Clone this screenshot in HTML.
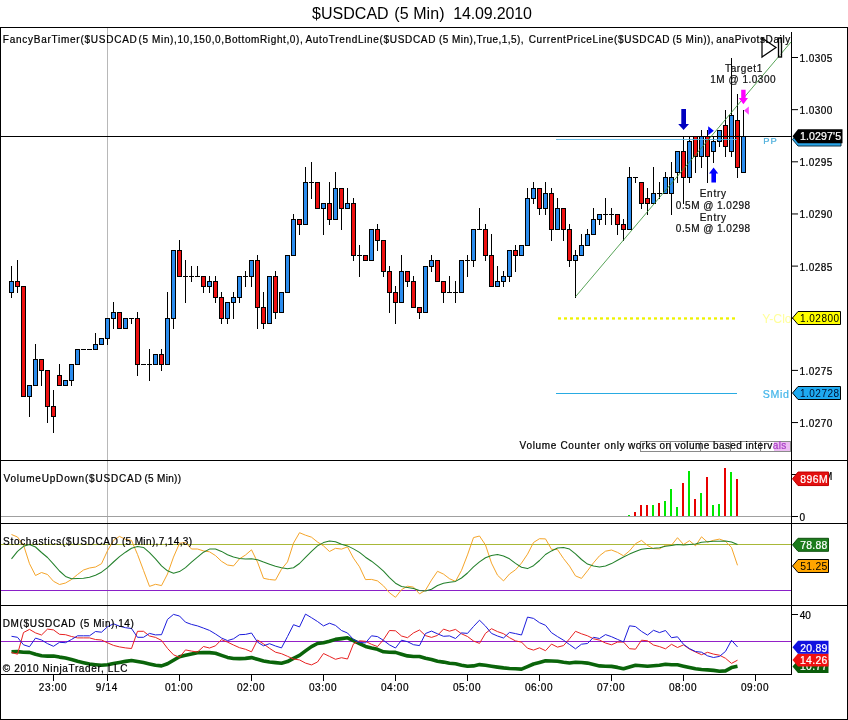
<!DOCTYPE html><html><head><meta charset="utf-8"><title>$USDCAD (5 Min) 14.09.2010</title><style>html,body{margin:0;padding:0;background:#fff}</style></head><body><svg width="848" height="720" viewBox="0 0 848 720" style="display:block">
<rect width="848" height="720" fill="#fff"/>
<text x="312.00" y="19" font-family="Liberation Sans, Arial, sans-serif" font-size="16" fill="#000" letter-spacing="0.032" xml:space="preserve">$USDCAD</text>
<text x="394.25" y="19" font-family="Liberation Sans, Arial, sans-serif" font-size="16" fill="#000" letter-spacing="0.083" xml:space="preserve">(5 Min)</text>
<text x="453.20" y="19" font-family="Liberation Sans, Arial, sans-serif" font-size="16" fill="#000" letter-spacing="-0.164" xml:space="preserve">14.09.2010</text>
<g shape-rendering="crispEdges">
<rect x="0" y="27" width="848" height="1" fill="#000"/>
<rect x="0" y="27" width="1" height="693" fill="#000"/>
<rect x="847" y="27" width="1" height="693" fill="#000"/>
<rect x="0" y="719" width="848" height="1" fill="#000"/>
<rect x="107" y="28" width="1" height="646" fill="#b8b8b8"/>
<rect x="0" y="460" width="848" height="1" fill="#000"/>
<rect x="0" y="523" width="848" height="1" fill="#000"/>
<rect x="0" y="605" width="848" height="1" fill="#000"/>
<rect x="0" y="674" width="792" height="1" fill="#000"/>
<rect x="791" y="32" width="1" height="643" fill="#000"/>
</g>
<rect x="792" y="57.00" width="6" height="1" fill="#000"/>
<rect x="792" y="109.15" width="6" height="1" fill="#000"/>
<rect x="792" y="161.30" width="6" height="1" fill="#000"/>
<rect x="792" y="213.45" width="6" height="1" fill="#000"/>
<rect x="792" y="265.60" width="6" height="1" fill="#000"/>
<rect x="792" y="317.75" width="6" height="1" fill="#000"/>
<rect x="792" y="369.90" width="6" height="1" fill="#000"/>
<rect x="792" y="422.05" width="6" height="1" fill="#000"/>
<g shape-rendering="crispEdges">
<rect x="1" y="516" width="790" height="1" fill="#a0a0a0"/>
<rect x="792" y="516" width="6" height="1" fill="#000"/>
<rect x="792" y="474" width="6" height="1" fill="#000"/>
<rect x="792" y="614" width="6" height="1" fill="#000"/>
<rect x="53" y="675" width="1" height="6" fill="#000"/>
<rect x="107" y="675" width="1" height="6" fill="#000"/>
<rect x="179" y="675" width="1" height="6" fill="#000"/>
<rect x="251" y="675" width="1" height="6" fill="#000"/>
<rect x="323" y="675" width="1" height="6" fill="#000"/>
<rect x="395" y="675" width="1" height="6" fill="#000"/>
<rect x="467" y="675" width="1" height="6" fill="#000"/>
<rect x="539" y="675" width="1" height="6" fill="#000"/>
<rect x="611" y="675" width="1" height="6" fill="#000"/>
<rect x="683" y="675" width="1" height="6" fill="#000"/>
<rect x="755" y="675" width="1" height="6" fill="#000"/>
</g>
<text x="799.45" y="61.9" font-family="Liberation Sans, Arial, sans-serif" font-size="10" fill="#000" stroke="#000" stroke-width="0.22" letter-spacing="0.455" xml:space="preserve">1.0305</text>
<text x="799.45" y="114.05000000000001" font-family="Liberation Sans, Arial, sans-serif" font-size="10" fill="#000" stroke="#000" stroke-width="0.22" letter-spacing="0.445" xml:space="preserve">1.0300</text>
<text x="799.45" y="166.20000000000002" font-family="Liberation Sans, Arial, sans-serif" font-size="10" fill="#000" stroke="#000" stroke-width="0.22" letter-spacing="0.455" xml:space="preserve">1.0295</text>
<text x="799.45" y="218.35" font-family="Liberation Sans, Arial, sans-serif" font-size="10" fill="#000" stroke="#000" stroke-width="0.22" letter-spacing="0.445" xml:space="preserve">1.0290</text>
<text x="799.45" y="270.5" font-family="Liberation Sans, Arial, sans-serif" font-size="10" fill="#000" stroke="#000" stroke-width="0.22" letter-spacing="0.455" xml:space="preserve">1.0285</text>
<text x="799.45" y="322.65" font-family="Liberation Sans, Arial, sans-serif" font-size="10" fill="#000" stroke="#000" stroke-width="0.22" letter-spacing="0.445" xml:space="preserve">1.0280</text>
<text x="799.45" y="374.79999999999995" font-family="Liberation Sans, Arial, sans-serif" font-size="10" fill="#000" stroke="#000" stroke-width="0.22" letter-spacing="0.455" xml:space="preserve">1.0275</text>
<text x="799.45" y="426.95" font-family="Liberation Sans, Arial, sans-serif" font-size="10" fill="#000" stroke="#000" stroke-width="0.22" letter-spacing="0.445" xml:space="preserve">1.0270</text>
<text x="799.55" y="520.9" font-family="Liberation Sans, Arial, sans-serif" font-size="10" fill="#000" stroke="#000" stroke-width="0.22" letter-spacing="-0.050" xml:space="preserve">0</text>
<text x="799.45" y="479.5" font-family="Liberation Sans, Arial, sans-serif" font-size="10" fill="#000" stroke="#000" stroke-width="0.22" letter-spacing="0.588" xml:space="preserve">1000M</text>
<text x="799.80" y="618.7" font-family="Liberation Sans, Arial, sans-serif" font-size="10" fill="#000" stroke="#000" stroke-width="0.22" letter-spacing="-0.062" xml:space="preserve">40</text>
<text x="38.75" y="690.6" font-family="Liberation Sans, Arial, sans-serif" font-size="10" fill="#000" stroke="#000" stroke-width="0.22" letter-spacing="0.709" xml:space="preserve">23:00</text>
<text x="95.80" y="690.6" font-family="Liberation Sans, Arial, sans-serif" font-size="10" fill="#000" stroke="#000" stroke-width="0.22" letter-spacing="0.666" xml:space="preserve">9/14</text>
<text x="164.90" y="690.6" font-family="Liberation Sans, Arial, sans-serif" font-size="10" fill="#000" stroke="#000" stroke-width="0.22" letter-spacing="0.672" xml:space="preserve">01:00</text>
<text x="236.90" y="690.6" font-family="Liberation Sans, Arial, sans-serif" font-size="10" fill="#000" stroke="#000" stroke-width="0.22" letter-spacing="0.672" xml:space="preserve">02:00</text>
<text x="308.90" y="690.6" font-family="Liberation Sans, Arial, sans-serif" font-size="10" fill="#000" stroke="#000" stroke-width="0.22" letter-spacing="0.672" xml:space="preserve">03:00</text>
<text x="380.90" y="690.6" font-family="Liberation Sans, Arial, sans-serif" font-size="10" fill="#000" stroke="#000" stroke-width="0.22" letter-spacing="0.672" xml:space="preserve">04:00</text>
<text x="452.90" y="690.6" font-family="Liberation Sans, Arial, sans-serif" font-size="10" fill="#000" stroke="#000" stroke-width="0.22" letter-spacing="0.672" xml:space="preserve">05:00</text>
<text x="524.90" y="690.6" font-family="Liberation Sans, Arial, sans-serif" font-size="10" fill="#000" stroke="#000" stroke-width="0.22" letter-spacing="0.672" xml:space="preserve">06:00</text>
<text x="596.90" y="690.6" font-family="Liberation Sans, Arial, sans-serif" font-size="10" fill="#000" stroke="#000" stroke-width="0.22" letter-spacing="0.672" xml:space="preserve">07:00</text>
<text x="668.90" y="690.6" font-family="Liberation Sans, Arial, sans-serif" font-size="10" fill="#000" stroke="#000" stroke-width="0.22" letter-spacing="0.672" xml:space="preserve">08:00</text>
<text x="740.90" y="690.6" font-family="Liberation Sans, Arial, sans-serif" font-size="10" fill="#000" stroke="#000" stroke-width="0.22" letter-spacing="0.672" xml:space="preserve">09:00</text>
<text x="2.80" y="42.8" font-family="Liberation Sans, Arial, sans-serif" font-size="10" fill="#000" stroke="#000" stroke-width="0.22" letter-spacing="0.744" xml:space="preserve">FancyBarTimer($USDCAD</text>
<text x="138.60" y="42.8" font-family="Liberation Sans, Arial, sans-serif" font-size="10" fill="#000" stroke="#000" stroke-width="0.22" letter-spacing="0.616" xml:space="preserve">(5 Min),10,150,0,BottomRight,0),</text>
<text x="305.50" y="42.8" font-family="Liberation Sans, Arial, sans-serif" font-size="10" fill="#000" stroke="#000" stroke-width="0.22" letter-spacing="0.676" xml:space="preserve">AutoTrendLine($USDCAD</text>
<text x="439.00" y="42.8" font-family="Liberation Sans, Arial, sans-serif" font-size="10" fill="#000" stroke="#000" stroke-width="0.22" letter-spacing="0.448" xml:space="preserve">(5 Min),True,1,5),</text>
<text x="528.70" y="42.8" font-family="Liberation Sans, Arial, sans-serif" font-size="10" fill="#000" stroke="#000" stroke-width="0.22" letter-spacing="0.640" xml:space="preserve">CurrentPriceLine($USDCAD</text>
<text x="672.50" y="42.8" font-family="Liberation Sans, Arial, sans-serif" font-size="10" fill="#000" stroke="#000" stroke-width="0.22" letter-spacing="0.482" xml:space="preserve">(5 Min)),</text>
<text x="716.30" y="42.8" font-family="Liberation Sans, Arial, sans-serif" font-size="10" fill="#000" stroke="#000" stroke-width="0.22" letter-spacing="0.597" xml:space="preserve">anaPivotsDaily</text>
<g shape-rendering="crispEdges">
<rect x="556" y="393" width="181" height="1" fill="#29abe2"/>
</g>
<rect x="558" y="317.3" width="3" height="2.3" fill="#eef200"/>
<rect x="564" y="317.3" width="3" height="2.3" fill="#eef200"/>
<rect x="570" y="317.3" width="3" height="2.3" fill="#eef200"/>
<rect x="576" y="317.3" width="3" height="2.3" fill="#eef200"/>
<rect x="582" y="317.3" width="3" height="2.3" fill="#eef200"/>
<rect x="588" y="317.3" width="3" height="2.3" fill="#eef200"/>
<rect x="594" y="317.3" width="3" height="2.3" fill="#eef200"/>
<rect x="600" y="317.3" width="3" height="2.3" fill="#eef200"/>
<rect x="606" y="317.3" width="3" height="2.3" fill="#eef200"/>
<rect x="612" y="317.3" width="3" height="2.3" fill="#eef200"/>
<rect x="618" y="317.3" width="3" height="2.3" fill="#eef200"/>
<rect x="624" y="317.3" width="3" height="2.3" fill="#eef200"/>
<rect x="630" y="317.3" width="3" height="2.3" fill="#eef200"/>
<rect x="636" y="317.3" width="3" height="2.3" fill="#eef200"/>
<rect x="642" y="317.3" width="3" height="2.3" fill="#eef200"/>
<rect x="648" y="317.3" width="3" height="2.3" fill="#eef200"/>
<rect x="654" y="317.3" width="3" height="2.3" fill="#eef200"/>
<rect x="660" y="317.3" width="3" height="2.3" fill="#eef200"/>
<rect x="666" y="317.3" width="3" height="2.3" fill="#eef200"/>
<rect x="672" y="317.3" width="3" height="2.3" fill="#eef200"/>
<rect x="678" y="317.3" width="3" height="2.3" fill="#eef200"/>
<rect x="684" y="317.3" width="3" height="2.3" fill="#eef200"/>
<rect x="690" y="317.3" width="3" height="2.3" fill="#eef200"/>
<rect x="696" y="317.3" width="3" height="2.3" fill="#eef200"/>
<rect x="702" y="317.3" width="3" height="2.3" fill="#eef200"/>
<rect x="708" y="317.3" width="3" height="2.3" fill="#eef200"/>
<rect x="714" y="317.3" width="3" height="2.3" fill="#eef200"/>
<rect x="720" y="317.3" width="3" height="2.3" fill="#eef200"/>
<rect x="726" y="317.3" width="3" height="2.3" fill="#eef200"/>
<rect x="732" y="317.3" width="3" height="2.3" fill="#eef200"/>
<g>
</g>
<g shape-rendering="crispEdges">
<rect x="11" y="266" width="1" height="32" fill="#000"/>
<rect x="9" y="281" width="5" height="12" fill="#000"/>
<rect x="10" y="282" width="3" height="10" fill="#2b8cee"/>
<rect x="17" y="260" width="1" height="33" fill="#000"/>
<rect x="15" y="281" width="5" height="6" fill="#000"/>
<rect x="16" y="282" width="3" height="4" fill="#ee1010"/>
<rect x="23" y="286" width="1" height="111" fill="#000"/>
<rect x="21" y="286" width="5" height="111" fill="#000"/>
<rect x="22" y="287" width="3" height="109" fill="#ee1010"/>
<rect x="29" y="385" width="1" height="32" fill="#000"/>
<rect x="27" y="385" width="5" height="12" fill="#000"/>
<rect x="28" y="386" width="3" height="10" fill="#2b8cee"/>
<rect x="35" y="344" width="1" height="42" fill="#000"/>
<rect x="33" y="359" width="5" height="27" fill="#000"/>
<rect x="34" y="360" width="3" height="25" fill="#2b8cee"/>
<rect x="41" y="359" width="1" height="27" fill="#000"/>
<rect x="39" y="359" width="5" height="12" fill="#000"/>
<rect x="40" y="360" width="3" height="10" fill="#ee1010"/>
<rect x="47" y="370" width="1" height="53" fill="#000"/>
<rect x="45" y="370" width="5" height="37" fill="#000"/>
<rect x="46" y="371" width="3" height="35" fill="#ee1010"/>
<rect x="53" y="390" width="1" height="43" fill="#000"/>
<rect x="51" y="406" width="5" height="11" fill="#000"/>
<rect x="52" y="407" width="3" height="9" fill="#ee1010"/>
<rect x="59" y="364" width="1" height="22" fill="#000"/>
<rect x="57" y="375" width="5" height="11" fill="#000"/>
<rect x="58" y="376" width="3" height="9" fill="#ee1010"/>
<rect x="65" y="380" width="1" height="6" fill="#000"/>
<rect x="63" y="380" width="5" height="6" fill="#000"/>
<rect x="64" y="381" width="3" height="4" fill="#2b8cee"/>
<rect x="71" y="364" width="1" height="22" fill="#000"/>
<rect x="69" y="364" width="5" height="17" fill="#000"/>
<rect x="70" y="365" width="3" height="15" fill="#2b8cee"/>
<rect x="77" y="349" width="1" height="16" fill="#000"/>
<rect x="75" y="349" width="5" height="16" fill="#000"/>
<rect x="76" y="350" width="3" height="14" fill="#2b8cee"/>
<rect x="83" y="349" width="1" height="1" fill="#000"/>
<rect x="81" y="349" width="5" height="1" fill="#000"/>
<rect x="89" y="349" width="1" height="1" fill="#000"/>
<rect x="87" y="349" width="5" height="1" fill="#000"/>
<rect x="95" y="333" width="1" height="17" fill="#000"/>
<rect x="93" y="344" width="5" height="6" fill="#000"/>
<rect x="94" y="345" width="3" height="4" fill="#2b8cee"/>
<rect x="101" y="338" width="1" height="7" fill="#000"/>
<rect x="99" y="338" width="5" height="7" fill="#000"/>
<rect x="100" y="339" width="3" height="5" fill="#2b8cee"/>
<rect x="107" y="318" width="1" height="27" fill="#000"/>
<rect x="105" y="318" width="5" height="21" fill="#000"/>
<rect x="106" y="319" width="3" height="19" fill="#2b8cee"/>
<rect x="113" y="302" width="1" height="27" fill="#000"/>
<rect x="111" y="312" width="5" height="7" fill="#000"/>
<rect x="112" y="313" width="3" height="5" fill="#2b8cee"/>
<rect x="119" y="312" width="1" height="17" fill="#000"/>
<rect x="117" y="312" width="5" height="17" fill="#000"/>
<rect x="118" y="313" width="3" height="15" fill="#ee1010"/>
<rect x="125" y="318" width="1" height="11" fill="#000"/>
<rect x="123" y="318" width="5" height="11" fill="#000"/>
<rect x="124" y="319" width="3" height="9" fill="#2b8cee"/>
<rect x="131" y="318" width="1" height="6" fill="#000"/>
<rect x="129" y="318" width="5" height="1" fill="#000"/>
<rect x="137" y="312" width="1" height="64" fill="#000"/>
<rect x="135" y="318" width="5" height="47" fill="#000"/>
<rect x="136" y="319" width="3" height="45" fill="#ee1010"/>
<rect x="143" y="364" width="1" height="1" fill="#000"/>
<rect x="141" y="364" width="5" height="1" fill="#000"/>
<rect x="149" y="349" width="1" height="32" fill="#000"/>
<rect x="147" y="364" width="5" height="1" fill="#000"/>
<rect x="155" y="354" width="1" height="11" fill="#000"/>
<rect x="153" y="354" width="5" height="11" fill="#000"/>
<rect x="154" y="355" width="3" height="9" fill="#2b8cee"/>
<rect x="161" y="349" width="1" height="22" fill="#000"/>
<rect x="159" y="354" width="5" height="11" fill="#000"/>
<rect x="160" y="355" width="3" height="9" fill="#ee1010"/>
<rect x="167" y="292" width="1" height="73" fill="#000"/>
<rect x="165" y="318" width="5" height="47" fill="#000"/>
<rect x="166" y="319" width="3" height="45" fill="#2b8cee"/>
<rect x="173" y="250" width="1" height="79" fill="#000"/>
<rect x="171" y="250" width="5" height="69" fill="#000"/>
<rect x="172" y="251" width="3" height="67" fill="#2b8cee"/>
<rect x="179" y="240" width="1" height="37" fill="#000"/>
<rect x="177" y="250" width="5" height="27" fill="#000"/>
<rect x="178" y="251" width="3" height="25" fill="#ee1010"/>
<rect x="185" y="260" width="1" height="43" fill="#000"/>
<rect x="183" y="276" width="5" height="1" fill="#000"/>
<rect x="191" y="266" width="1" height="16" fill="#000"/>
<rect x="189" y="276" width="5" height="1" fill="#000"/>
<rect x="197" y="266" width="1" height="11" fill="#000"/>
<rect x="195" y="276" width="5" height="1" fill="#000"/>
<rect x="203" y="276" width="1" height="17" fill="#000"/>
<rect x="201" y="276" width="5" height="11" fill="#000"/>
<rect x="202" y="277" width="3" height="9" fill="#ee1010"/>
<rect x="209" y="276" width="1" height="17" fill="#000"/>
<rect x="207" y="281" width="5" height="6" fill="#000"/>
<rect x="208" y="282" width="3" height="4" fill="#2b8cee"/>
<rect x="215" y="276" width="1" height="27" fill="#000"/>
<rect x="213" y="281" width="5" height="17" fill="#000"/>
<rect x="214" y="282" width="3" height="15" fill="#ee1010"/>
<rect x="221" y="292" width="1" height="32" fill="#000"/>
<rect x="219" y="297" width="5" height="22" fill="#000"/>
<rect x="220" y="298" width="3" height="20" fill="#ee1010"/>
<rect x="227" y="302" width="1" height="22" fill="#000"/>
<rect x="225" y="302" width="5" height="17" fill="#000"/>
<rect x="226" y="303" width="3" height="15" fill="#2b8cee"/>
<rect x="233" y="292" width="1" height="27" fill="#000"/>
<rect x="231" y="297" width="5" height="6" fill="#000"/>
<rect x="232" y="298" width="3" height="4" fill="#2b8cee"/>
<rect x="239" y="276" width="1" height="27" fill="#000"/>
<rect x="237" y="276" width="5" height="22" fill="#000"/>
<rect x="238" y="277" width="3" height="20" fill="#2b8cee"/>
<rect x="245" y="271" width="1" height="16" fill="#000"/>
<rect x="243" y="276" width="5" height="1" fill="#000"/>
<rect x="251" y="260" width="1" height="27" fill="#000"/>
<rect x="249" y="260" width="5" height="17" fill="#000"/>
<rect x="250" y="261" width="3" height="15" fill="#2b8cee"/>
<rect x="257" y="255" width="1" height="74" fill="#000"/>
<rect x="255" y="260" width="5" height="48" fill="#000"/>
<rect x="256" y="261" width="3" height="46" fill="#ee1010"/>
<rect x="263" y="292" width="1" height="37" fill="#000"/>
<rect x="261" y="307" width="5" height="17" fill="#000"/>
<rect x="262" y="308" width="3" height="15" fill="#ee1010"/>
<rect x="269" y="276" width="1" height="48" fill="#000"/>
<rect x="267" y="276" width="5" height="48" fill="#000"/>
<rect x="268" y="277" width="3" height="46" fill="#2b8cee"/>
<rect x="275" y="271" width="1" height="48" fill="#000"/>
<rect x="273" y="276" width="5" height="37" fill="#000"/>
<rect x="274" y="277" width="3" height="35" fill="#ee1010"/>
<rect x="281" y="292" width="1" height="21" fill="#000"/>
<rect x="279" y="292" width="5" height="21" fill="#000"/>
<rect x="280" y="293" width="3" height="19" fill="#2b8cee"/>
<rect x="287" y="255" width="1" height="38" fill="#000"/>
<rect x="285" y="255" width="5" height="38" fill="#000"/>
<rect x="286" y="256" width="3" height="36" fill="#2b8cee"/>
<rect x="293" y="214" width="1" height="42" fill="#000"/>
<rect x="291" y="219" width="5" height="37" fill="#000"/>
<rect x="292" y="220" width="3" height="35" fill="#2b8cee"/>
<rect x="299" y="219" width="1" height="16" fill="#000"/>
<rect x="297" y="219" width="5" height="6" fill="#000"/>
<rect x="298" y="220" width="3" height="4" fill="#ee1010"/>
<rect x="305" y="167" width="1" height="58" fill="#000"/>
<rect x="303" y="182" width="5" height="43" fill="#000"/>
<rect x="304" y="183" width="3" height="41" fill="#2b8cee"/>
<rect x="311" y="162" width="1" height="37" fill="#000"/>
<rect x="309" y="182" width="5" height="1" fill="#000"/>
<rect x="317" y="182" width="1" height="27" fill="#000"/>
<rect x="315" y="182" width="5" height="27" fill="#000"/>
<rect x="316" y="183" width="3" height="25" fill="#ee1010"/>
<rect x="323" y="203" width="1" height="32" fill="#000"/>
<rect x="321" y="203" width="5" height="6" fill="#000"/>
<rect x="322" y="204" width="3" height="4" fill="#2b8cee"/>
<rect x="329" y="182" width="1" height="43" fill="#000"/>
<rect x="327" y="203" width="5" height="17" fill="#000"/>
<rect x="328" y="204" width="3" height="15" fill="#ee1010"/>
<rect x="335" y="172" width="1" height="48" fill="#000"/>
<rect x="333" y="188" width="5" height="32" fill="#000"/>
<rect x="334" y="189" width="3" height="30" fill="#2b8cee"/>
<rect x="341" y="188" width="1" height="42" fill="#000"/>
<rect x="339" y="188" width="5" height="21" fill="#000"/>
<rect x="340" y="189" width="3" height="19" fill="#ee1010"/>
<rect x="347" y="188" width="1" height="21" fill="#000"/>
<rect x="345" y="203" width="5" height="6" fill="#000"/>
<rect x="346" y="204" width="3" height="4" fill="#2b8cee"/>
<rect x="353" y="198" width="1" height="63" fill="#000"/>
<rect x="351" y="203" width="5" height="53" fill="#000"/>
<rect x="352" y="204" width="3" height="51" fill="#ee1010"/>
<rect x="359" y="245" width="1" height="32" fill="#000"/>
<rect x="357" y="255" width="5" height="1" fill="#000"/>
<rect x="365" y="255" width="1" height="6" fill="#000"/>
<rect x="363" y="255" width="5" height="6" fill="#000"/>
<rect x="364" y="256" width="3" height="4" fill="#ee1010"/>
<rect x="371" y="229" width="1" height="32" fill="#000"/>
<rect x="369" y="229" width="5" height="32" fill="#000"/>
<rect x="370" y="230" width="3" height="30" fill="#2b8cee"/>
<rect x="377" y="224" width="1" height="27" fill="#000"/>
<rect x="375" y="229" width="5" height="12" fill="#000"/>
<rect x="376" y="230" width="3" height="10" fill="#ee1010"/>
<rect x="383" y="240" width="1" height="37" fill="#000"/>
<rect x="381" y="240" width="5" height="32" fill="#000"/>
<rect x="382" y="241" width="3" height="30" fill="#ee1010"/>
<rect x="389" y="266" width="1" height="47" fill="#000"/>
<rect x="387" y="271" width="5" height="22" fill="#000"/>
<rect x="388" y="272" width="3" height="20" fill="#ee1010"/>
<rect x="395" y="286" width="1" height="38" fill="#000"/>
<rect x="393" y="292" width="5" height="11" fill="#000"/>
<rect x="394" y="293" width="3" height="9" fill="#ee1010"/>
<rect x="401" y="255" width="1" height="48" fill="#000"/>
<rect x="399" y="271" width="5" height="32" fill="#000"/>
<rect x="400" y="272" width="3" height="30" fill="#2b8cee"/>
<rect x="407" y="271" width="1" height="16" fill="#000"/>
<rect x="405" y="271" width="5" height="11" fill="#000"/>
<rect x="406" y="272" width="3" height="9" fill="#ee1010"/>
<rect x="413" y="276" width="1" height="32" fill="#000"/>
<rect x="411" y="281" width="5" height="27" fill="#000"/>
<rect x="412" y="282" width="3" height="25" fill="#ee1010"/>
<rect x="419" y="307" width="1" height="12" fill="#000"/>
<rect x="417" y="307" width="5" height="6" fill="#000"/>
<rect x="418" y="308" width="3" height="4" fill="#ee1010"/>
<rect x="425" y="266" width="1" height="47" fill="#000"/>
<rect x="423" y="266" width="5" height="47" fill="#000"/>
<rect x="424" y="267" width="3" height="45" fill="#2b8cee"/>
<rect x="431" y="255" width="1" height="17" fill="#000"/>
<rect x="429" y="260" width="5" height="7" fill="#000"/>
<rect x="430" y="261" width="3" height="5" fill="#2b8cee"/>
<rect x="437" y="260" width="1" height="22" fill="#000"/>
<rect x="435" y="260" width="5" height="22" fill="#000"/>
<rect x="436" y="261" width="3" height="20" fill="#ee1010"/>
<rect x="443" y="281" width="1" height="22" fill="#000"/>
<rect x="441" y="281" width="5" height="12" fill="#000"/>
<rect x="442" y="282" width="3" height="10" fill="#ee1010"/>
<rect x="449" y="276" width="1" height="17" fill="#000"/>
<rect x="447" y="292" width="5" height="1" fill="#000"/>
<rect x="455" y="281" width="1" height="22" fill="#000"/>
<rect x="453" y="292" width="5" height="1" fill="#000"/>
<rect x="461" y="260" width="1" height="33" fill="#000"/>
<rect x="459" y="260" width="5" height="33" fill="#000"/>
<rect x="460" y="261" width="3" height="31" fill="#2b8cee"/>
<rect x="467" y="255" width="1" height="22" fill="#000"/>
<rect x="465" y="260" width="5" height="1" fill="#000"/>
<rect x="473" y="229" width="1" height="38" fill="#000"/>
<rect x="471" y="229" width="5" height="32" fill="#000"/>
<rect x="472" y="230" width="3" height="30" fill="#2b8cee"/>
<rect x="479" y="208" width="1" height="22" fill="#000"/>
<rect x="477" y="229" width="5" height="1" fill="#000"/>
<rect x="485" y="224" width="1" height="37" fill="#000"/>
<rect x="483" y="229" width="5" height="27" fill="#000"/>
<rect x="484" y="230" width="3" height="25" fill="#ee1010"/>
<rect x="491" y="234" width="1" height="53" fill="#000"/>
<rect x="489" y="255" width="5" height="32" fill="#000"/>
<rect x="490" y="256" width="3" height="30" fill="#ee1010"/>
<rect x="497" y="266" width="1" height="21" fill="#000"/>
<rect x="495" y="281" width="5" height="6" fill="#000"/>
<rect x="496" y="282" width="3" height="4" fill="#2b8cee"/>
<rect x="503" y="271" width="1" height="16" fill="#000"/>
<rect x="501" y="276" width="5" height="6" fill="#000"/>
<rect x="502" y="277" width="3" height="4" fill="#2b8cee"/>
<rect x="509" y="250" width="1" height="32" fill="#000"/>
<rect x="507" y="250" width="5" height="27" fill="#000"/>
<rect x="508" y="251" width="3" height="25" fill="#2b8cee"/>
<rect x="515" y="245" width="1" height="27" fill="#000"/>
<rect x="513" y="250" width="5" height="6" fill="#000"/>
<rect x="514" y="251" width="3" height="4" fill="#ee1010"/>
<rect x="521" y="245" width="1" height="11" fill="#000"/>
<rect x="519" y="245" width="5" height="11" fill="#000"/>
<rect x="520" y="246" width="3" height="9" fill="#2b8cee"/>
<rect x="527" y="188" width="1" height="58" fill="#000"/>
<rect x="525" y="198" width="5" height="48" fill="#000"/>
<rect x="526" y="199" width="3" height="46" fill="#2b8cee"/>
<rect x="533" y="182" width="1" height="22" fill="#000"/>
<rect x="531" y="188" width="5" height="11" fill="#000"/>
<rect x="532" y="189" width="3" height="9" fill="#2b8cee"/>
<rect x="539" y="188" width="1" height="27" fill="#000"/>
<rect x="537" y="188" width="5" height="21" fill="#000"/>
<rect x="538" y="189" width="3" height="19" fill="#ee1010"/>
<rect x="545" y="182" width="1" height="33" fill="#000"/>
<rect x="543" y="193" width="5" height="16" fill="#000"/>
<rect x="544" y="194" width="3" height="14" fill="#2b8cee"/>
<rect x="551" y="188" width="1" height="53" fill="#000"/>
<rect x="549" y="193" width="5" height="37" fill="#000"/>
<rect x="550" y="194" width="3" height="35" fill="#ee1010"/>
<rect x="557" y="198" width="1" height="32" fill="#000"/>
<rect x="555" y="208" width="5" height="22" fill="#000"/>
<rect x="556" y="209" width="3" height="20" fill="#2b8cee"/>
<rect x="563" y="208" width="1" height="33" fill="#000"/>
<rect x="561" y="208" width="5" height="22" fill="#000"/>
<rect x="562" y="209" width="3" height="20" fill="#ee1010"/>
<rect x="569" y="224" width="1" height="43" fill="#000"/>
<rect x="567" y="229" width="5" height="32" fill="#000"/>
<rect x="568" y="230" width="3" height="30" fill="#ee1010"/>
<rect x="575" y="250" width="1" height="48" fill="#000"/>
<rect x="573" y="255" width="5" height="6" fill="#000"/>
<rect x="574" y="256" width="3" height="4" fill="#2b8cee"/>
<rect x="581" y="234" width="1" height="22" fill="#000"/>
<rect x="579" y="245" width="5" height="11" fill="#000"/>
<rect x="580" y="246" width="3" height="9" fill="#2b8cee"/>
<rect x="587" y="229" width="1" height="17" fill="#000"/>
<rect x="585" y="234" width="5" height="12" fill="#000"/>
<rect x="586" y="235" width="3" height="10" fill="#2b8cee"/>
<rect x="593" y="208" width="1" height="27" fill="#000"/>
<rect x="591" y="219" width="5" height="16" fill="#000"/>
<rect x="592" y="220" width="3" height="14" fill="#2b8cee"/>
<rect x="599" y="214" width="1" height="11" fill="#000"/>
<rect x="597" y="214" width="5" height="6" fill="#000"/>
<rect x="598" y="215" width="3" height="4" fill="#2b8cee"/>
<rect x="605" y="198" width="1" height="27" fill="#000"/>
<rect x="603" y="214" width="5" height="1" fill="#000"/>
<rect x="611" y="208" width="1" height="17" fill="#000"/>
<rect x="609" y="214" width="5" height="1" fill="#000"/>
<rect x="617" y="214" width="1" height="21" fill="#000"/>
<rect x="615" y="214" width="5" height="11" fill="#000"/>
<rect x="616" y="215" width="3" height="9" fill="#ee1010"/>
<rect x="623" y="219" width="1" height="22" fill="#000"/>
<rect x="621" y="224" width="5" height="6" fill="#000"/>
<rect x="622" y="225" width="3" height="4" fill="#ee1010"/>
<rect x="629" y="167" width="1" height="63" fill="#000"/>
<rect x="627" y="177" width="5" height="53" fill="#000"/>
<rect x="628" y="178" width="3" height="51" fill="#2b8cee"/>
<rect x="635" y="177" width="1" height="6" fill="#000"/>
<rect x="633" y="177" width="5" height="1" fill="#000"/>
<rect x="641" y="182" width="1" height="27" fill="#000"/>
<rect x="639" y="182" width="5" height="22" fill="#000"/>
<rect x="640" y="183" width="3" height="20" fill="#ee1010"/>
<rect x="647" y="188" width="1" height="27" fill="#000"/>
<rect x="645" y="198" width="5" height="6" fill="#000"/>
<rect x="646" y="199" width="3" height="4" fill="#ee1010"/>
<rect x="653" y="167" width="1" height="37" fill="#000"/>
<rect x="651" y="193" width="5" height="11" fill="#000"/>
<rect x="652" y="194" width="3" height="9" fill="#2b8cee"/>
<rect x="659" y="182" width="1" height="17" fill="#000"/>
<rect x="657" y="193" width="5" height="1" fill="#000"/>
<rect x="665" y="172" width="1" height="22" fill="#000"/>
<rect x="663" y="177" width="5" height="17" fill="#000"/>
<rect x="664" y="178" width="3" height="15" fill="#2b8cee"/>
<rect x="671" y="162" width="1" height="53" fill="#000"/>
<rect x="669" y="177" width="5" height="17" fill="#000"/>
<rect x="670" y="178" width="3" height="15" fill="#2b8cee"/>
<rect x="677" y="151" width="1" height="32" fill="#000"/>
<rect x="675" y="151" width="5" height="22" fill="#000"/>
<rect x="676" y="152" width="3" height="20" fill="#2b8cee"/>
<rect x="683" y="136" width="1" height="68" fill="#000"/>
<rect x="681" y="151" width="5" height="27" fill="#000"/>
<rect x="682" y="152" width="3" height="25" fill="#ee1010"/>
<rect x="689" y="136" width="1" height="47" fill="#000"/>
<rect x="687" y="141" width="5" height="37" fill="#000"/>
<rect x="688" y="142" width="3" height="35" fill="#2b8cee"/>
<rect x="695" y="136" width="1" height="37" fill="#000"/>
<rect x="693" y="136" width="5" height="21" fill="#000"/>
<rect x="694" y="137" width="3" height="19" fill="#ee1010"/>
<rect x="701" y="130" width="1" height="38" fill="#000"/>
<rect x="699" y="136" width="5" height="21" fill="#000"/>
<rect x="700" y="137" width="3" height="19" fill="#2b8cee"/>
<rect x="707" y="130" width="1" height="53" fill="#000"/>
<rect x="705" y="136" width="5" height="21" fill="#000"/>
<rect x="706" y="137" width="3" height="19" fill="#ee1010"/>
<rect x="713" y="136" width="1" height="27" fill="#000"/>
<rect x="711" y="141" width="5" height="11" fill="#000"/>
<rect x="712" y="142" width="3" height="9" fill="#2b8cee"/>
<rect x="719" y="130" width="1" height="17" fill="#000"/>
<rect x="717" y="130" width="5" height="12" fill="#000"/>
<rect x="718" y="131" width="3" height="10" fill="#2b8cee"/>
<rect x="725" y="110" width="1" height="47" fill="#000"/>
<rect x="723" y="125" width="5" height="22" fill="#000"/>
<rect x="724" y="126" width="3" height="20" fill="#ee1010"/>
<rect x="731" y="58" width="1" height="99" fill="#000"/>
<rect x="729" y="115" width="5" height="37" fill="#000"/>
<rect x="730" y="116" width="3" height="35" fill="#2b8cee"/>
<rect x="737" y="94" width="1" height="84" fill="#000"/>
<rect x="735" y="120" width="5" height="48" fill="#000"/>
<rect x="736" y="121" width="3" height="46" fill="#ee1010"/>
<rect x="743" y="110" width="1" height="63" fill="#000"/>
<rect x="741" y="136" width="5" height="37" fill="#000"/>
<rect x="742" y="137" width="3" height="35" fill="#2b8cee"/>
<rect x="556" y="139" width="181" height="1" fill="#52b4e4" fill-opacity="0.85"/>
<rect x="1" y="136" width="791" height="1" fill="#000"/>
</g>
<line x1="575.5" y1="296.75" x2="791" y2="42" stroke="#3a933a" stroke-width="1" stroke-opacity="0.85"/>
<polygon points="762,38 762,57 776,47.5" fill="none" stroke="#000" stroke-width="1.25"/>
<rect x="778.5" y="38" width="3" height="19" fill="#fff" fill-opacity="0.5" stroke="#000" stroke-width="1.35"/>
<polygon points="681.3,109 686,109 686,124 689,124 683.6,130 678.2,124 681.3,124" fill="#0000c0"/>
<polygon points="713.6,167.6 718.2,173.5 716,173.5 716,182.5 711.4,182.5 711.4,173.5 709,173.5" fill="#0000ff"/>
<polygon points="708.2,126.2 708.2,135.3 713.8,130.7" fill="#0000ff"/>
<polygon points="741.2,89.8 745.6,89.8 745.6,98 748,98 743.4,104.3 738.8,98 741.2,98" fill="#ff00ff"/>
<polygon points="748.8,106.5 748.8,114.8 744,110.6" fill="#ff40ff"/>
<text x="725.00" y="72" font-family="Liberation Sans, Arial, sans-serif" font-size="10" fill="#101010" stroke="#101010" stroke-width="0.22" letter-spacing="0.651" xml:space="preserve">Target1</text>
<text x="710.25" y="83.2" font-family="Liberation Sans, Arial, sans-serif" font-size="10" fill="#101010" stroke="#101010" stroke-width="0.22" letter-spacing="0.513" xml:space="preserve">1M @ 1.0300</text>
<text x="699.70" y="196.7" font-family="Liberation Sans, Arial, sans-serif" font-size="10" fill="#101010" stroke="#101010" stroke-width="0.22" letter-spacing="0.765" xml:space="preserve">Entry</text>
<text x="675.85" y="208.7" font-family="Liberation Sans, Arial, sans-serif" font-size="10" fill="#101010" stroke="#101010" stroke-width="0.22" letter-spacing="0.470" xml:space="preserve">0.5M @ 1.0298</text>
<text x="699.70" y="220.6" font-family="Liberation Sans, Arial, sans-serif" font-size="10" fill="#101010" stroke="#101010" stroke-width="0.22" letter-spacing="0.765" xml:space="preserve">Entry</text>
<text x="675.85" y="232.4" font-family="Liberation Sans, Arial, sans-serif" font-size="10" fill="#101010" stroke="#101010" stroke-width="0.22" letter-spacing="0.470" xml:space="preserve">0.5M @ 1.0298</text>
<text x="763.15" y="143.5" font-family="Liberation Sans, Arial, sans-serif" font-size="9.4" fill="#4fb0dc" stroke="#4fb0dc" stroke-width="0.22" letter-spacing="1.180" xml:space="preserve">PP</text>
<text x="762.3" y="322.6" font-family="Liberation Sans, Arial, sans-serif" font-size="12.2" fill="#ffff9a" clip-path="url(#cl)" xml:space="preserve">Y-Close</text>
<clipPath id="cl"><rect x="0" y="28" width="791" height="432"/></clipPath>
<text x="762.85" y="398" font-family="Liberation Sans, Arial, sans-serif" font-size="10.6" fill="#45b6ea" stroke="#45b6ea" stroke-width="0.22" letter-spacing="0.615" xml:space="preserve">SMid</text>
<g shape-rendering="crispEdges">
<rect x="774" y="441" width="16" height="10" fill="#ecbcf2"/>
<rect x="640.5" y="441.5" width="150" height="10" fill="none" stroke="#8a8a8a" stroke-width="1"/>
<rect x="670" y="441" width="1" height="11" fill="#8a8a8a"/>
<rect x="700" y="441" width="1" height="11" fill="#8a8a8a"/>
<rect x="730" y="441" width="1" height="11" fill="#8a8a8a"/>
<rect x="760" y="441" width="1" height="11" fill="#8a8a8a"/>
</g>
<text x="519.60" y="448.7" font-family="Liberation Sans, Arial, sans-serif" font-size="10" fill="#000" stroke="#000" stroke-width="0.22" letter-spacing="0.676" xml:space="preserve">Volume Counter only</text>
<text x="628.05" y="448.7" font-family="Liberation Sans, Arial, sans-serif" font-size="10" fill="#000" stroke="#000" stroke-width="0.22" letter-spacing="0.441" xml:space="preserve">works on volume based interv<tspan fill="#a83cc4" stroke="#a83cc4">als</tspan></text>
<polygon points="792.5,139.5 798,133.0 841,133.0 841,146.0 798,146.0" fill="#2aa6ea" stroke="#134" stroke-width="1"/>
<text x="799.90" y="143.1" font-family="Liberation Sans, Arial, sans-serif" font-size="10.67" fill="#002" letter-spacing="0.228" xml:space="preserve">1.02705</text>
<polygon points="792.5,136.2 798,129.2 842.5,129.2 842.5,143.2 798,143.2" fill="#000"/>
<text x="799.90" y="139.8" font-family="Liberation Sans, Arial, sans-serif" font-size="10.6" fill="#fff" stroke="#fff" stroke-width="0.22" letter-spacing="0.129" xml:space="preserve">1.0297&#39;5</text>
<polygon points="792.5,318 798,311.5 840.5,311.5 840.5,324.5 798,324.5" fill="#ffff00" stroke="#000" stroke-width="1"/>
<text x="799.95" y="321.6" font-family="Liberation Sans, Arial, sans-serif" font-size="10" fill="#000" letter-spacing="0.494" xml:space="preserve">1.02800</text>
<polygon points="792.5,393 798,386.5 840.5,386.5 840.5,399.5 798,399.5" fill="#1eaaf0" stroke="#000" stroke-width="1"/>
<text x="799.95" y="396.6" font-family="Liberation Sans, Arial, sans-serif" font-size="10" fill="#001030" letter-spacing="0.502" xml:space="preserve">1.02728</text>
<g shape-rendering="crispEdges">
<rect x="628" y="515" width="2" height="1" fill="#00e800"/>
<rect x="634" y="512" width="2" height="4" fill="#e80000"/>
<rect x="640" y="505" width="2" height="11" fill="#e80000"/>
<rect x="646" y="505" width="2" height="11" fill="#e80000"/>
<rect x="652" y="505" width="2" height="11" fill="#00e800"/>
<rect x="658" y="503" width="2" height="13" fill="#e80000"/>
<rect x="664" y="501" width="2" height="15" fill="#00e800"/>
<rect x="670" y="489" width="2" height="27" fill="#00e800"/>
<rect x="676" y="507" width="2" height="9" fill="#00e800"/>
<rect x="682" y="483" width="2" height="33" fill="#e80000"/>
<rect x="688" y="471" width="2" height="45" fill="#00e800"/>
<rect x="694" y="499" width="2" height="17" fill="#e80000"/>
<rect x="700" y="493" width="2" height="23" fill="#00e800"/>
<rect x="706" y="477" width="2" height="39" fill="#e80000"/>
<rect x="712" y="505" width="2" height="11" fill="#00e800"/>
<rect x="718" y="504" width="2" height="12" fill="#00e800"/>
<rect x="724" y="468" width="2" height="48" fill="#e80000"/>
<rect x="730" y="472" width="2" height="44" fill="#00e800"/>
<rect x="736" y="479" width="2" height="37" fill="#e80000"/>
</g>
<text x="3.50" y="482.3" font-family="Liberation Sans, Arial, sans-serif" font-size="10" fill="#000" stroke="#000" stroke-width="0.22" letter-spacing="0.808" xml:space="preserve">VolumeUpDown($USDCAD</text>
<text x="144.40" y="482.3" font-family="Liberation Sans, Arial, sans-serif" font-size="10" fill="#000" stroke="#000" stroke-width="0.22" letter-spacing="0.320" xml:space="preserve">(5 Min))</text>
<polygon points="792.5,478.8 798,472.05 828.5,472.05 828.5,485.55 798,485.55" fill="#e41010" stroke="#c00000" stroke-width="1"/>
<text x="800.25" y="482.7" font-family="Liberation Sans, Arial, sans-serif" font-size="10.4" fill="#fff" stroke="#fff" stroke-width="0.22" letter-spacing="0.483" xml:space="preserve">896M</text>
<g shape-rendering="crispEdges">
<rect x="1" y="544" width="790" height="1" fill="#a8b838"/>
<rect x="1" y="590" width="790" height="1" fill="#8a20c8"/>
<rect x="1" y="641" width="790" height="1" fill="#9420c8"/>
</g>
<polyline points="11.5,534.5 17.5,537.0 23.5,545.0 29.5,563.7 35.5,575.5 41.5,572.5 47.5,574.5 53.5,581.3 59.5,584.5 65.5,583.0 71.5,579.5 77.5,574.5 83.5,570.0 89.5,568.0 95.5,567.0 101.5,563.7 107.5,550.7 113.5,540.4 119.5,536.4 125.5,539.4 131.5,540.4 137.5,554.4 143.5,570.4 149.5,586.4 155.5,584.3 161.5,585.6 167.5,574.0 173.5,557.1 179.5,543.3 185.5,542.4 191.5,549.0 197.5,549.0 203.5,550.9 209.5,551.8 215.5,555.6 221.5,561.3 227.5,565.0 233.5,565.9 239.5,558.8 245.5,555.0 251.5,549.8 257.5,562.1 263.5,578.3 269.5,579.5 275.5,580.1 281.5,569.2 287.5,561.9 293.5,543.1 299.5,532.7 305.5,535.2 311.5,537.2 317.5,542.0 323.5,545.9 329.5,551.5 335.5,548.3 341.5,549.1 347.5,546.9 353.5,558.2 359.5,566.8 365.5,579.6 371.5,579.4 377.5,580.9 383.5,585.9 389.5,592.8 395.5,597.3 401.5,589.7 407.5,586.2 413.5,587.1 419.5,593.9 425.5,590.2 431.5,580.1 437.5,571.3 443.5,574.1 449.5,578.7 455.5,581.4 461.5,570.4 467.5,554.9 473.5,537.6 479.5,536.0 485.5,545.0 491.5,563.1 497.5,575.2 503.5,580.9 509.5,574.0 515.5,569.8 521.5,563.1 527.5,554.2 533.5,542.5 539.5,538.7 545.5,538.9 551.5,549.3 557.5,549.6 563.5,558.5 569.5,566.1 575.5,575.9 581.5,578.4 587.5,570.8 593.5,562.8 599.5,555.8 605.5,551.2 611.5,550.0 617.5,552.4 623.5,555.8 629.5,550.9 635.5,543.7 641.5,540.4 647.5,545.5 653.5,548.6 659.5,548.9 665.5,545.2 671.5,545.2 677.5,537.7 683.5,544.5 689.5,540.7 695.5,545.8 701.5,536.8 707.5,542.2 713.5,540.3 719.5,539.1 725.5,541.3 731.5,547.5 737.5,565.3" fill="none" stroke="#f5a52a" stroke-width="1" stroke-linejoin="round"/>
<polyline points="11.5,558.8 17.5,551.3 23.5,546.3 29.5,544.5 35.5,547.0 41.5,552.5 47.5,557.5 53.5,564.2 59.5,571.0 65.5,576.4 71.5,578.7 77.5,578.5 83.5,578.2 89.5,577.2 95.5,575.2 101.5,572.2 107.5,567.6 113.5,562.0 119.5,556.6 125.5,552.2 131.5,548.3 137.5,546.5 143.5,547.4 149.5,552.6 155.5,558.8 161.5,565.9 167.5,570.8 173.5,573.2 179.5,571.6 185.5,567.6 191.5,562.2 197.5,557.2 203.5,552.2 209.5,549.1 215.5,548.9 221.5,551.4 227.5,554.7 233.5,557.1 239.5,558.5 245.5,559.1 251.5,558.8 257.5,559.7 263.5,562.1 269.5,564.2 275.5,566.2 281.5,567.7 287.5,568.7 293.5,567.7 299.5,563.5 305.5,557.4 311.5,551.3 317.5,545.9 323.5,542.6 329.5,541.1 335.5,541.8 341.5,544.2 347.5,545.9 353.5,548.9 359.5,552.4 365.5,557.2 371.5,561.2 377.5,565.8 383.5,571.1 389.5,577.6 395.5,583.2 401.5,586.5 407.5,587.5 413.5,588.6 419.5,590.4 425.5,591.0 431.5,589.2 437.5,585.5 443.5,583.3 449.5,582.2 455.5,581.4 461.5,578.0 467.5,573.0 473.5,566.9 479.5,561.9 485.5,557.7 491.5,555.5 497.5,554.6 503.5,556.1 509.5,558.8 515.5,563.4 521.5,567.3 527.5,568.6 533.5,565.7 539.5,560.5 545.5,554.5 551.5,550.9 557.5,548.1 563.5,547.4 569.5,549.1 575.5,553.9 581.5,559.5 587.5,564.1 593.5,566.0 599.5,566.9 605.5,565.9 611.5,563.6 617.5,560.2 623.5,557.0 629.5,554.1 635.5,551.4 641.5,549.2 647.5,548.4 653.5,548.2 659.5,547.7 665.5,546.2 671.5,545.4 677.5,544.5 683.5,545.1 689.5,544.4 695.5,544.0 701.5,542.3 707.5,541.8 713.5,541.2 719.5,541.3 725.5,540.9 731.5,541.9 737.5,544.6" fill="none" stroke="#23802b" stroke-width="1.05" stroke-linejoin="round"/>
<text x="3.05" y="545" font-family="Liberation Sans, Arial, sans-serif" font-size="10" fill="#000" stroke="#000" stroke-width="0.22" letter-spacing="0.704" xml:space="preserve">Stochastics($USDCAD</text>
<text x="121.90" y="545" font-family="Liberation Sans, Arial, sans-serif" font-size="10" fill="#000" stroke="#000" stroke-width="0.22" letter-spacing="0.368" xml:space="preserve">(5 Min),7,14,3)</text>
<polygon points="792.5,544.8 798,538.3 828.5,538.3 828.5,551.3 798,551.3" fill="#1c7c1c" stroke="#105010" stroke-width="1"/>
<text x="800.20" y="548.8" font-family="Liberation Sans, Arial, sans-serif" font-size="10.4" fill="#fff" stroke="#fff" stroke-width="0.22" letter-spacing="0.277" xml:space="preserve">78.88</text>
<polygon points="792.5,566 798,559.5 828.5,559.5 828.5,572.5 798,572.5" fill="#ffa500" stroke="#000" stroke-width="1"/>
<text x="800.30" y="569.8" font-family="Liberation Sans, Arial, sans-serif" font-size="10.4" fill="#000" letter-spacing="0.252" xml:space="preserve">51.25</text>
<polyline points="11.5,651.8 17.5,651.6 23.5,652.3 29.5,652.4 35.5,654.2 41.5,655.8 47.5,656.1 53.5,656.0 59.5,657.1 65.5,658.0 71.5,659.6 77.5,661.3 83.5,662.7 89.5,664.1 95.5,664.7 101.5,665.2 107.5,664.7 113.5,663.5 119.5,662.4 125.5,661.4 131.5,660.5 137.5,661.5 143.5,662.5 149.5,663.9 155.5,665.2 161.5,665.9 167.5,663.8 173.5,660.3 179.5,656.8 185.5,655.3 191.5,653.9 197.5,652.7 203.5,652.6 209.5,652.6 215.5,653.3 221.5,655.4 227.5,657.4 233.5,658.5 239.5,658.6 245.5,658.4 251.5,657.6 257.5,659.3 263.5,660.9 269.5,662.0 275.5,662.6 281.5,663.2 287.5,661.6 293.5,658.4 299.5,655.4 305.5,650.9 311.5,646.6 317.5,643.5 323.5,642.7 329.5,641.2 335.5,639.4 341.5,638.6 347.5,637.8 353.5,640.6 359.5,643.6 365.5,646.4 371.5,648.1 377.5,649.3 383.5,651.8 389.5,652.3 395.5,652.4 401.5,654.2 407.5,655.9 413.5,656.5 419.5,656.5 425.5,658.3 431.5,659.5 437.5,661.2 443.5,662.1 449.5,663.2 455.5,663.7 461.5,665.2 467.5,666.3 473.5,665.9 479.5,664.6 485.5,665.3 491.5,666.2 497.5,667.1 503.5,667.9 509.5,668.5 515.5,668.8 521.5,669.1 527.5,666.6 533.5,664.0 539.5,662.4 545.5,660.7 551.5,661.0 557.5,661.2 563.5,662.2 569.5,663.0 575.5,662.2 581.5,662.5 587.5,663.1 593.5,664.5 599.5,665.9 605.5,666.2 611.5,666.4 617.5,667.4 623.5,668.8 629.5,667.0 635.5,665.3 641.5,665.7 647.5,666.3 653.5,665.8 659.5,665.3 665.5,664.2 671.5,664.8 677.5,664.8 683.5,666.2 689.5,667.5 695.5,668.7 701.5,669.5 707.5,669.9 713.5,670.4 719.5,671.2 725.5,670.9 731.5,667.6 737.5,666.3" fill="none" stroke="#0a640a" stroke-width="3.6" stroke-linejoin="round"/>
<polyline points="11.5,652.5 17.5,654.2 23.5,632.5 29.5,629.4 35.5,632.9 41.5,635.0 47.5,629.1 53.5,629.9 59.5,634.3 65.5,634.7 71.5,636.5 77.5,637.9 83.5,637.9 89.5,637.9 95.5,639.5 101.5,640.0 107.5,642.8 113.5,645.4 119.5,646.9 125.5,647.9 131.5,648.5 137.5,631.3 143.5,631.3 149.5,636.0 155.5,637.4 161.5,640.4 167.5,648.4 173.5,654.8 179.5,657.3 185.5,649.9 191.5,651.1 197.5,652.0 203.5,646.5 209.5,648.0 215.5,645.8 221.5,639.6 227.5,642.1 233.5,645.0 239.5,647.7 245.5,649.3 251.5,651.8 257.5,640.0 263.5,643.9 269.5,648.3 275.5,652.2 281.5,653.7 287.5,656.3 293.5,659.0 299.5,659.9 305.5,663.1 311.5,664.9 317.5,662.0 323.5,653.5 329.5,656.4 335.5,659.3 341.5,657.7 347.5,659.0 353.5,643.8 359.5,640.8 365.5,641.3 371.5,644.3 377.5,646.6 383.5,639.6 389.5,630.5 395.5,630.8 401.5,636.0 407.5,637.7 413.5,632.9 419.5,630.0 425.5,635.6 431.5,637.4 437.5,635.4 443.5,629.1 449.5,631.2 455.5,629.4 461.5,633.8 467.5,636.5 473.5,641.0 479.5,643.4 485.5,633.3 491.5,628.7 497.5,631.6 503.5,633.7 509.5,637.7 515.5,640.9 521.5,642.1 527.5,648.2 533.5,650.1 539.5,647.8 545.5,650.7 551.5,644.1 557.5,647.1 563.5,645.6 569.5,638.8 575.5,631.3 581.5,633.8 587.5,635.8 593.5,638.8 599.5,640.1 605.5,643.0 611.5,644.8 617.5,642.1 623.5,642.0 629.5,648.7 635.5,649.2 641.5,640.2 647.5,640.8 653.5,645.0 659.5,646.6 665.5,648.8 671.5,644.3 677.5,647.5 683.5,644.9 689.5,649.1 695.5,652.0 701.5,654.7 707.5,652.3 713.5,654.1 719.5,655.2 725.5,658.3 731.5,663.4 737.5,660.2" fill="none" stroke="#e82222" stroke-width="1" stroke-linejoin="round"/>
<polyline points="11.5,636.3 17.5,637.3 23.5,644.8 29.5,646.7 35.5,638.1 41.5,640.0 47.5,643.6 53.5,646.3 59.5,642.3 65.5,642.7 71.5,639.5 77.5,635.8 83.5,635.8 89.5,635.8 95.5,631.5 101.5,632.2 107.5,626.8 113.5,623.8 119.5,626.2 125.5,627.7 131.5,628.5 137.5,637.3 143.5,637.3 149.5,633.4 155.5,634.9 161.5,634.7 167.5,619.4 173.5,614.4 179.5,616.0 185.5,622.2 191.5,624.4 197.5,625.9 203.5,628.1 209.5,630.4 215.5,634.0 221.5,638.0 227.5,640.6 233.5,638.8 239.5,634.7 245.5,634.4 251.5,633.0 257.5,642.1 263.5,645.8 269.5,643.7 275.5,646.0 281.5,647.9 287.5,636.5 293.5,624.7 299.5,626.9 305.5,614.1 311.5,617.7 317.5,621.5 323.5,625.9 329.5,623.2 335.5,625.4 341.5,630.5 347.5,633.0 353.5,639.5 359.5,642.4 365.5,642.9 371.5,635.8 377.5,636.6 383.5,640.4 389.5,644.9 395.5,648.0 401.5,640.2 407.5,641.7 413.5,644.7 419.5,645.6 425.5,633.5 431.5,631.1 437.5,633.8 443.5,636.3 449.5,635.9 455.5,638.5 461.5,632.9 467.5,633.4 473.5,626.5 479.5,620.2 485.5,626.1 491.5,633.4 497.5,636.0 503.5,638.0 509.5,632.4 515.5,633.6 521.5,635.0 527.5,617.1 533.5,618.4 539.5,622.7 545.5,625.3 551.5,632.7 557.5,636.6 563.5,640.2 569.5,644.5 575.5,648.8 581.5,644.2 587.5,643.5 593.5,637.3 599.5,638.5 605.5,634.6 611.5,636.7 617.5,639.4 623.5,642.0 629.5,625.8 635.5,626.6 641.5,631.4 647.5,635.1 653.5,630.3 659.5,632.6 665.5,630.5 671.5,637.7 677.5,636.8 683.5,644.3 689.5,648.6 695.5,651.5 701.5,652.2 707.5,655.8 713.5,657.5 719.5,656.4 725.5,651.4 731.5,640.3 737.5,646.9" fill="none" stroke="#1c1cdc" stroke-width="1" stroke-linejoin="round"/>
<text x="2.70" y="626.9" font-family="Liberation Sans, Arial, sans-serif" font-size="10" fill="#000" stroke="#000" stroke-width="0.22" letter-spacing="0.678" xml:space="preserve">DM($USDCAD</text>
<text x="79.90" y="626.9" font-family="Liberation Sans, Arial, sans-serif" font-size="10" fill="#000" stroke="#000" stroke-width="0.22" letter-spacing="0.554" xml:space="preserve">(5 Min),14)</text>
<text x="2.85" y="671.9" font-family="Liberation Sans, Arial, sans-serif" font-size="10" fill="#000" stroke="#000" stroke-width="0.22" letter-spacing="0.642" xml:space="preserve">© 2010 NinjaTrader, LLC</text>
<polygon points="792.5,666.4 798,659.9 828.5,659.9 828.5,672.9 798,672.9" fill="#0a5c0a"/>
<text x="799.95" y="669.8" font-family="Liberation Sans, Arial, sans-serif" font-size="10.4" fill="#fff" stroke="#fff" stroke-width="0.22" letter-spacing="0.352" xml:space="preserve">10.77</text>
<polygon points="792.5,660.1 798,653.6 828.5,653.6 828.5,666.6 798,666.6" fill="#f01010"/>
<text x="799.95" y="663.8" font-family="Liberation Sans, Arial, sans-serif" font-size="10.4" fill="#fff" stroke="#fff" stroke-width="0.22" letter-spacing="0.340" xml:space="preserve">14.26</text>
<polygon points="792.5,647.2 798,640.7 828.5,640.7 828.5,653.7 798,653.7" fill="#1010e0"/>
<text x="800.20" y="651.5" font-family="Liberation Sans, Arial, sans-serif" font-size="10.4" fill="#fff" stroke="#fff" stroke-width="0.22" letter-spacing="0.290" xml:space="preserve">20.89</text>
</svg></body></html>
